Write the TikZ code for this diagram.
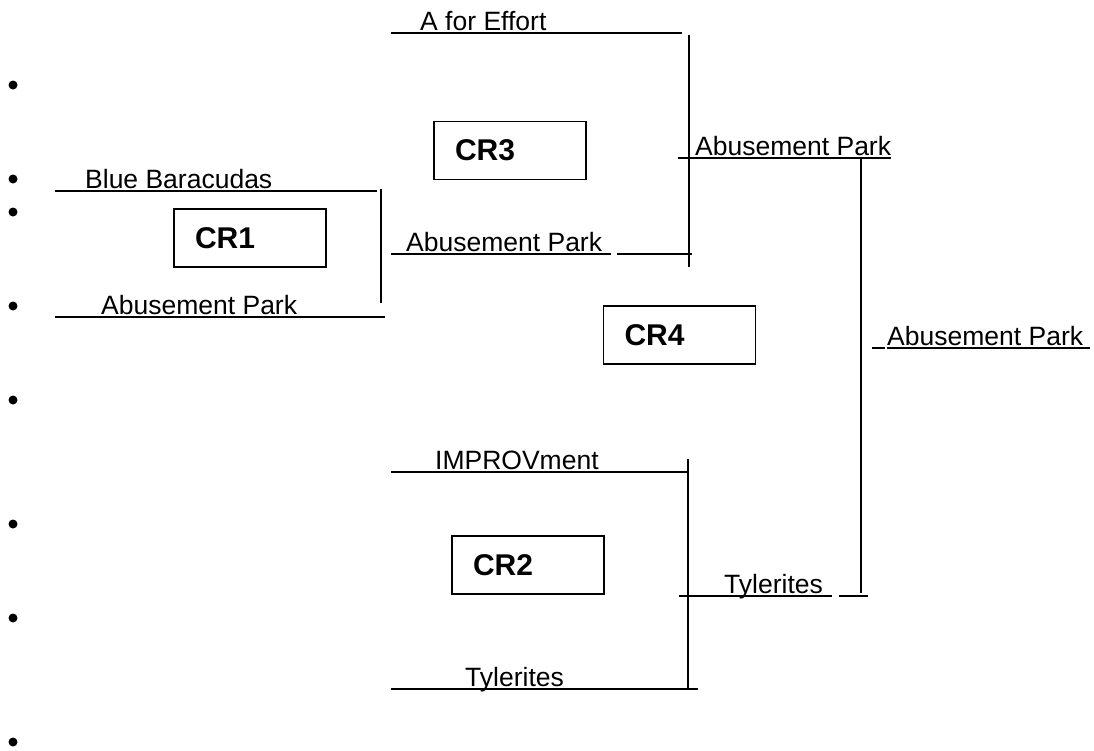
\documentclass[tikz,border=0pt]{standalone}
\usepackage{fontspec}
\setmainfont{Liberation Sans}
\begin{document}
\begin{tikzpicture}[x=1pt,y=-1pt,
  team/.style={anchor=base west, inner sep=0pt, font=\fontsize{26.5}{30}\selectfont},
  crbox/.style={draw, line width=1.6pt, text width=110pt, inner xsep=21pt, inner ysep=0pt,
    minimum height=58pt, align=left, font=\bfseries\fontsize{30}{34}\selectfont},
  rule/.style={line width=1.5pt},
  bar/.style={line width=1.7pt}]
\useasboundingbox (0,0) rectangle (1094,750);
% bullets down the left margin
\foreach \y in {85,179,212,306,400,524,618,742}
  \fill (13,\y) circle (4.5pt);
% round 1
\node[team] (bb) at (85,188) {Blue Baracudas};
\draw[rule] (55,191) -- (377,191);
\node[team] (ap1) at (101,314) {Abusement Park};
\draw[rule] (55,317) -- (385,317);
\coordinate (v1top) at (381,189);
\coordinate (v1bot) at (381,303);
\draw[line width=2.6pt] (v1top) -- (v1bot);
\node[crbox] (cr1) at (250,238) {CR1};
% round 2, top
\node[team] (afe) at (420,30) {A for Effort};
\draw[rule] (391,33) -- (682,33);
\node[team] (ap2) at (406,251) {Abusement Park};
\draw[rule] (391,254) -- (611,254);
\draw[rule] (617,254) -- (692,254);
\coordinate (v2top) at (689,35);
\coordinate (v2bot) at (689,267);
\draw[bar] (v2top) -- (v2bot);
\node[crbox] (cr3) at (510,150.5) {CR3};
% round 2, bottom
\node[team] (imp) at (435,469) {IMPROVment};
\draw[rule] (391,472) -- (687,472);
\node[team] (ty1) at (465,686) {Tylerites};
\draw[rule] (391,689) -- (698,689);
\coordinate (v4top) at (688,459);
\coordinate (v4bot) at (688,690);
\draw[bar] (v4top) -- (v4bot);
\node[crbox] (cr2) at (528,565) {CR2};
% final
\node[team] (ap3) at (695,155) {Abusement Park};
\draw[rule] (678,158) -- (891,158);
\node[team] (ty2) at (724,593) {Tylerites};
\draw[rule] (679,596) -- (832,596);
\draw[rule] (839,596) -- (868,596);
\coordinate (v3top) at (861,158);
\coordinate (v3bot) at (861,593);
\draw[bar] (v3top) -- (v3bot);
\node[crbox] (cr4) at (679.5,335) {CR4};
% winner
\node[team] (ap4) at (887,345) {Abusement Park};
\draw[rule] (872,348) -- (885,348);
\draw[rule] (887,348) -- (1090,348);
\end{tikzpicture}
\end{document}
